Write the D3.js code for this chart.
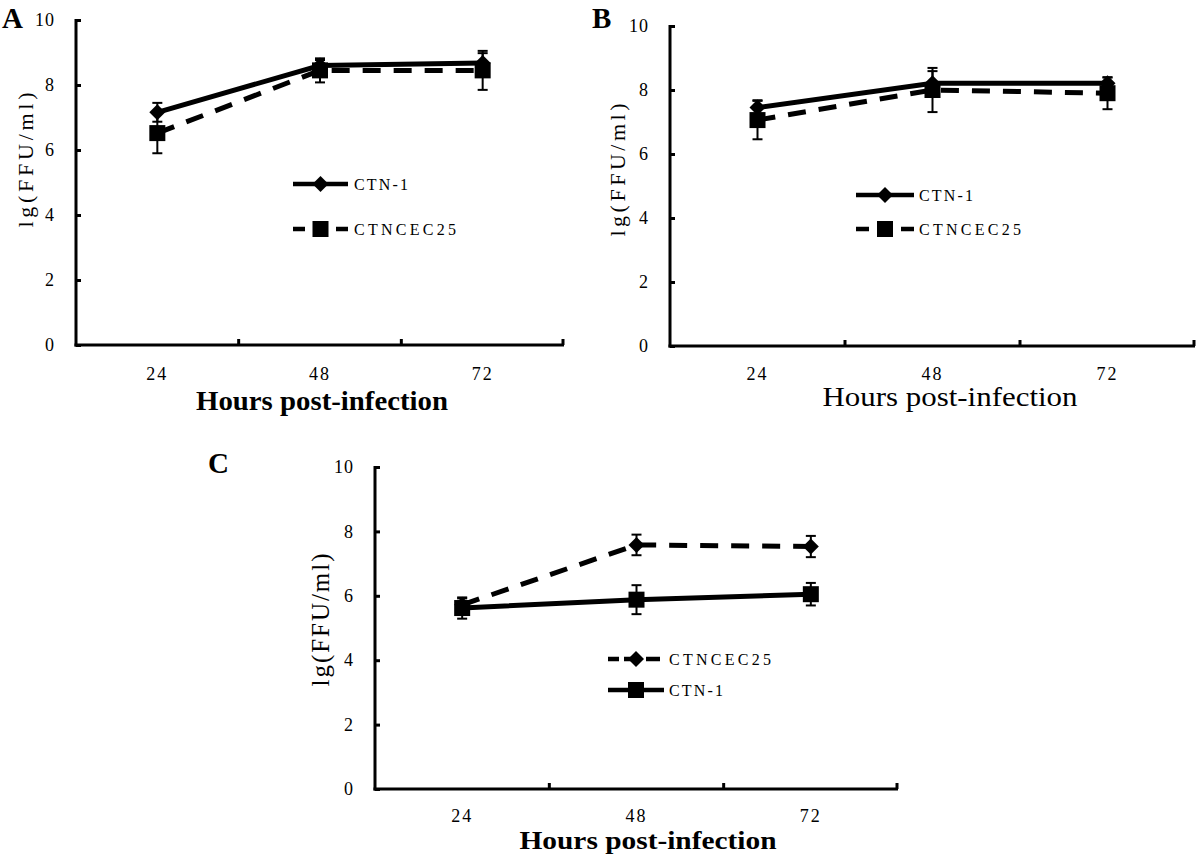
<!DOCTYPE html>
<html><head><meta charset="utf-8">
<script src="https://cdn.jsdelivr.net/npm/d3@7"></script>
<style>
body{margin:0;background:#fff;}
svg{display:block;}
text{font-family:"Liberation Serif","Times New Roman",serif;fill:#000;}
</style></head>
<body>
<svg id="chart" width="1200" height="864"></svg>
<script>
// ---------- data ----------
const categories = ["24", "48", "72"];
const yTicks = [0, 2, 4, 6, 8, 10];
const xTitle = "Hours post-infection";
const yTitle = "lg(FFU/ml)";

// Panel A
const aCTN1 = [7.16, 8.6, 8.68];
const aCTN1Err = [0.29, 0.17, 0.3];
const aCEC25 = [6.52, 8.45, 8.45];
const aCEC25Err = [0.62, 0.37, 0.6];
// Panel B
const bCTN1 = [7.45, 8.21, 8.21];
const bCTN1Err = [0.23, 0.38, 0.18];
const bCEC25 = [7.06, 8.0, 7.9];
const bCEC25Err = [0.6, 0.69, 0.5];
// Panel C
const cCEC25 = [5.72, 7.58, 7.53];
const cCEC25Err = [0.2, 0.32, 0.33];
const cCTN1 = [5.62, 5.88, 6.05];
const cCTN1Err = [0.33, 0.45, 0.35];

// ---------- layout ----------
const panels = [
  { label: "A", lx: 2, ly: 28, x0: 76, x1: 564, yTop: 20, yBot: 345,
    tickLabelY: 380, titleX: 322, titleY: 410, titleW: 252, titleSize: 27, titleWeight: "bold",
    yTitleX: 25, yTitleY: 160, yTitleSize: 22, yTitleLen: 135,
    series: [
      { name: "CTN-1", values: aCTN1, err: aCTN1Err, dashed: false, marker: "diamond" },
      { name: "CTNCEC25", values: aCEC25, err: aCEC25Err, dashed: true, marker: "square" }
    ],
    legend: { x1: 293, x2: 348, tx: 354, y: [184, 229], order: [0, 1], dash: "12,31,12" } },
  { label: "B", lx: 592, ly: 28, x0: 670, x1: 1195, yTop: 26, yBot: 346,
    tickLabelY: 380, titleX: 950, titleY: 406, titleW: 255, titleSize: 27, titleWeight: "normal",
    yTitleX: 617, yTitleY: 170, yTitleSize: 22, yTitleLen: 133,
    series: [
      { name: "CTN-1", values: bCTN1, err: bCTN1Err, dashed: false, marker: "diamond" },
      { name: "CTNCEC25", values: bCEC25, err: bCEC25Err, dashed: true, marker: "square" }
    ],
    legend: { x1: 856, x2: 914, tx: 919, y: [195, 229], order: [0, 1], dash: "13,32,13" } },
  { label: "C", lx: 208, ly: 473, x0: 375, x1: 898, yTop: 467, yBot: 789,
    tickLabelY: 822, titleX: 648, titleY: 849, titleW: 257, titleSize: 25, titleWeight: "bold",
    yTitleX: 320, yTitleY: 620, yTitleSize: 25, yTitleLen: 133,
    series: [
      { name: "CTNCEC25", values: cCEC25, err: cCEC25Err, dashed: true, marker: "diamond" },
      { name: "CTN-1", values: cCTN1, err: cCTN1Err, dashed: false, marker: "square" }
    ],
    legend: { x1: 608, x2: 664, tx: 669, y: [659, 690], order: [0, 1], dash: "11,5,7,15,14" } }
];

const svg = d3.select("#chart");
const dash = "18,13";

function drawMarker(g, type, cx, cy) {
  const s = 8;
  if (type === "diamond") {
    g.append("path")
      .attr("d", `M${cx},${cy - s}L${cx + s},${cy}L${cx},${cy + s}L${cx - s},${cy}Z`)
      .attr("fill", "#000");
  } else {
    g.append("rect").attr("x", cx - s).attr("y", cy - s)
      .attr("width", 2 * s).attr("height", 2 * s).attr("fill", "#000");
  }
}

panels.forEach(p => {
  const g = svg.append("g");
  const x = d3.scaleBand().domain(categories).range([p.x0, p.x1]).padding(0);
  const y = d3.scaleLinear().domain([0, 10]).range([p.yBot, p.yTop]);
  const cx = c => x(c) + x.bandwidth() / 2;

  // panel letter
  g.append("text").attr("x", p.lx).attr("y", p.ly)
    .attr("font-size", 29).attr("font-weight", "bold").text(p.label);

  // y axis
  const yAxis = d3.axisLeft(y).tickValues(yTicks).tickSize(-5).tickPadding(21)
    .tickFormat(d3.format("d"));
  const ya = g.append("g").attr("transform", `translate(${p.x0},0)`).call(yAxis);
  ya.attr("font-family", null);
  ya.select(".domain").remove();
  ya.selectAll(".tick line").attr("stroke", "#000").attr("stroke-width", 3);
  ya.selectAll(".tick text").attr("font-size", 18).attr("letter-spacing", "1px");
  g.append("line").attr("x1", p.x0).attr("x2", p.x0)
    .attr("y1", y(10) - 1).attr("y2", y(0) + 1.5)
    .attr("stroke", "#000").attr("stroke-width", 3);

  // x axis line and boundary ticks
  g.append("line").attr("x1", p.x0 - 1.5).attr("x2", p.x1)
    .attr("y1", y(0)).attr("y2", y(0))
    .attr("stroke", "#000").attr("stroke-width", 3);
  const bounds = categories.slice(1).map(c => x(c)).concat([p.x1 - 1]);
  g.selectAll(".xb").data(bounds).enter().append("line")
    .attr("x1", d => d).attr("x2", d => d)
    .attr("y1", y(0)).attr("y2", y(0) - 6)
    .attr("stroke", "#000").attr("stroke-width", 3);
  g.selectAll(".xl").data(categories).enter().append("text")
    .attr("x", d => cx(d)).attr("y", p.tickLabelY)
    .attr("text-anchor", "middle").attr("font-size", 18)
    .attr("letter-spacing", "2px").text(d => d);

  // axis titles
  g.append("text").attr("x", p.titleX).attr("y", p.titleY)
    .attr("text-anchor", "middle").attr("font-size", p.titleSize)
    .attr("font-weight", p.titleWeight)
    .attr("textLength", p.titleW).attr("lengthAdjust", "spacingAndGlyphs")
    .text(xTitle);
  g.append("text")
    .attr("transform", `translate(${p.yTitleX},${p.yTitleY}) rotate(-90)`)
    .attr("text-anchor", "middle").attr("dy", "0.35em")
    .attr("font-size", p.yTitleSize)
    .attr("textLength", p.yTitleLen).attr("lengthAdjust", "spacing")
    .text(yTitle);

  // error bars
  p.series.forEach(s => {
    categories.forEach((c, i) => {
      const px = cx(c), lo = y(s.values[i] - s.err[i]), hi = y(s.values[i] + s.err[i]);
      g.append("line").attr("x1", px).attr("x2", px).attr("y1", lo).attr("y2", hi)
        .attr("stroke", "#000").attr("stroke-width", 2);
      [lo, hi].forEach(yy => g.append("line")
        .attr("x1", px - 5).attr("x2", px + 5).attr("y1", yy).attr("y2", yy)
        .attr("stroke", "#000").attr("stroke-width", 2));
    });
  });

  // lines + markers
  const line = d3.line().x(d => cx(d.c)).y(d => y(d.v));
  p.series.forEach(s => {
    const pts = categories.map((c, i) => ({ c, v: s.values[i] }));
    g.append("path").datum(pts).attr("d", line)
      .attr("fill", "none").attr("stroke", "#000").attr("stroke-width", 5)
      .attr("stroke-dasharray", s.dashed ? dash : null);
    pts.forEach(d => drawMarker(g, s.marker, cx(d.c), y(d.v)));
  });

  // legend
  const L = p.legend;
  L.order.forEach((si, k) => {
    const s = p.series[si];
    const ly = L.y[k];
    const mid = (L.x1 + L.x2) / 2;
    g.append("line").attr("x1", L.x1).attr("x2", L.x2).attr("y1", ly).attr("y2", ly)
      .attr("stroke", "#000").attr("stroke-width", 4.5)
      .attr("stroke-dasharray", s.dashed ? L.dash : null);
    drawMarker(g, s.marker, mid, ly);
    g.append("text").attr("x", L.tx).attr("y", ly).attr("dy", "0.35em")
      .attr("font-size", 16)
      .attr("textLength", s.name.length > 5 ? 102 : 54).attr("lengthAdjust", "spacing")
      .text(s.name);
  });
});
</script>
</body></html>
